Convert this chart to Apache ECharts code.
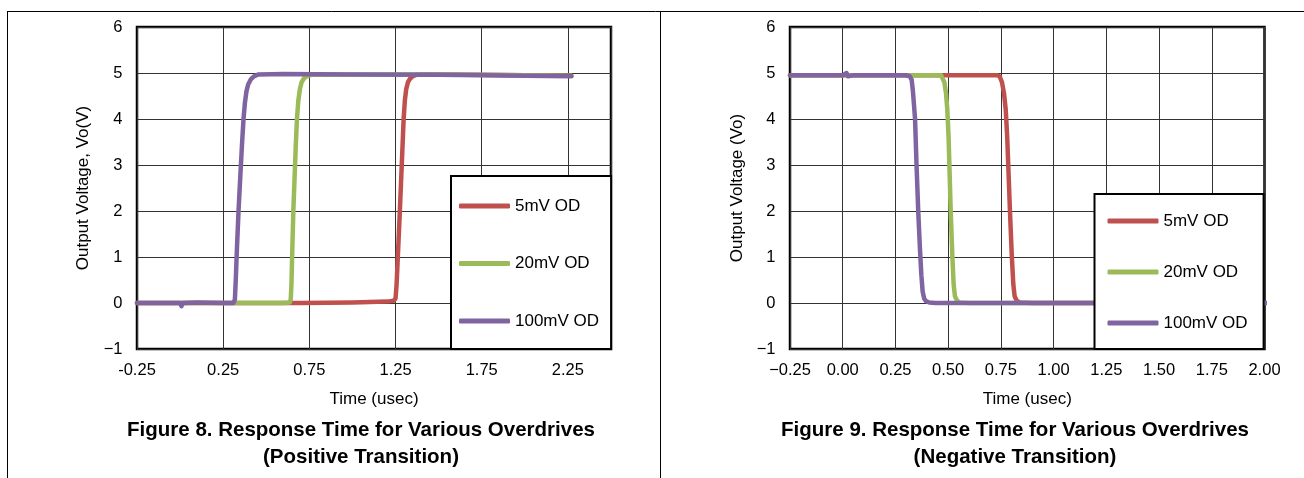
<!DOCTYPE html>
<html>
<head>
<meta charset="utf-8">
<script src="https://cdn.jsdelivr.net/npm/echarts@6/dist/echarts.min.js"></script>
<style>
html,body{margin:0;padding:0;background:#fff;}
#c{width:1304px;height:478px;}
</style>
</head>
<body>
<div id="c"></div>
<script>
// ---------- names / colours ----------
const seriesNames = ['5mV OD', '20mV OD', '100mV OD'];
const seriesColors = ['#C0504D', '#9BBB59', '#8064A2'];

// ---------- tick labels ----------
const leftXTicks = [-0.25, 0.25, 0.75, 1.25, 1.75, 2.25];
const leftXLabels = ['-0.25', '0.25', '0.75', '1.25', '1.75', '2.25'];
const rightXTicks = [-0.25, 0, 0.25, 0.5, 0.75, 1, 1.25, 1.5, 1.75, 2];
const rightXLabels = ['\u22120.25', '0.00', '0.25', '0.50', '0.75', '1.00', '1.25', '1.50', '1.75', '2.00'];
const yTicks = [-1, 0, 1, 2, 3, 4, 5, 6];
const yLabels = ['\u22121', '0', '1', '2', '3', '4', '5', '6'];

// ---------- Figure 8 (positive transition): time (usec), voltage (V) ----------
const pos5_t = [-0.25, 0.3, 0.7, 1.0, 1.2, 1.24, 1.25, 1.256, 1.262, 1.268, 1.275, 1.286, 1.297, 1.304, 1.312, 1.322, 1.335, 1.35, 1.37, 1.45, 1.75, 2.0, 2.27];
const pos5_v = [0, 0, 0, 0.01, 0.03, 0.05, 0.1, 0.4, 0.9, 1.4, 2.0, 3.0, 4.0, 4.4, 4.65, 4.8, 4.88, 4.93, 4.96, 4.97, 4.96, 4.95, 4.94];

const pos20_t = [-0.25, 0.3, 0.6, 0.636, 0.642, 0.646, 0.65, 0.657, 0.664, 0.671, 0.678, 0.686, 0.695, 0.705, 0.72, 0.74, 0.76, 1.0, 1.5, 2.0, 2.27];
const pos20_v = [0, 0, 0, 0.01, 0.08, 0.4, 1.0, 2.0, 2.7, 3.4, 4.0, 4.4, 4.65, 4.8, 4.89, 4.94, 4.96, 4.97, 4.97, 4.95, 4.94];

const pos100_t = [-0.25, -0.1, 0.0, 0.008, 0.016, 0.1, 0.25, 0.31, 0.318, 0.323, 0.33, 0.339, 0.35, 0.36, 0.368, 0.376, 0.385, 0.395, 0.41, 0.43, 0.455, 0.6, 1.0, 1.5, 2.0, 2.27];
const pos100_v = [0, 0, 0, -0.07, 0, 0.01, 0, 0, 0.08, 0.5, 1.2, 2.0, 2.8, 3.5, 4.0, 4.35, 4.6, 4.75, 4.86, 4.93, 4.97, 4.98, 4.97, 4.96, 4.94, 4.93];

// ---------- Figure 9 (negative transition) ----------
const neg5_t = [-0.25, 0.3, 0.7, 0.735, 0.745, 0.755, 0.765, 0.773, 0.78, 0.793, 0.802, 0.809, 0.815, 0.825, 0.84, 0.9, 1.2, 1.6, 2.0];
const neg5_v = [4.95, 4.95, 4.95, 4.95, 4.92, 4.8, 4.55, 4.2, 3.6, 2.0, 1.0, 0.4, 0.15, 0.05, 0.01, 0, 0, 0, 0];

const neg20_t = [-0.25, 0.2, 0.45, 0.466, 0.474, 0.482, 0.49, 0.496, 0.502, 0.512, 0.52, 0.526, 0.532, 0.542, 0.556, 0.6, 1.0, 1.5, 2.0];
const neg20_v = [4.95, 4.95, 4.95, 4.95, 4.92, 4.8, 4.55, 4.2, 3.6, 2.0, 1.0, 0.4, 0.15, 0.05, 0.01, 0, 0, 0, 0];

const neg100_t = [-0.25, 0.0, 0.018, 0.025, 0.05, 0.2, 0.3, 0.318, 0.327, 0.333, 0.338, 0.343, 0.35, 0.358, 0.366, 0.373, 0.379, 0.386, 0.395, 0.41, 0.44, 0.6, 1.0, 1.5, 2.01];
const neg100_v = [4.95, 4.95, 5.0, 4.93, 4.95, 4.95, 4.95, 4.93, 4.85, 4.6, 4.3, 4.0, 3.0, 2.0, 1.2, 0.6, 0.25, 0.1, 0.04, 0.01, 0, 0, 0, 0, 0];

// ---------- helpers ----------
const FONT = '"Liberation Sans", Arial, Helvetica, sans-serif';
function zip(t, v) { return t.map((x, i) => [x, v[i]]); }
function lookup(ticks, labels) {
  return function (val) {
    for (let i = 0; i < ticks.length; i++) if (Math.abs(ticks[i] - val) < 1e-6) return labels[i];
    return '';
  };
}
function mkSeries(name, color, data, idx) {
  return {
    type: 'line', name: name, data: data, xAxisIndex: idx, yAxisIndex: idx,
    showSymbol: false, symbol: 'none', smooth: false,
    lineStyle: { color: color, width: 4.5, cap: 'round', join: 'round' },
    itemStyle: { color: color },
    animation: false
  };
}
function mkX(idx, min, max, interval, ticks, labels) {
  return {
    type: 'value', gridIndex: idx, min: min, max: max, interval: interval,
    name: 'Time (usec)', nameLocation: 'middle', nameGap: 42,
    nameTextStyle: { fontFamily: FONT, fontSize: 17, color: '#000' },
    axisLine: { show: false }, axisTick: { show: false },
    axisLabel: { formatter: lookup(ticks, labels), fontFamily: FONT, fontSize: 16.5, color: '#000', margin: 13, showMaxLabel: true },
    splitLine: { show: true, lineStyle: { color: '#333', width: 1 } }
  };
}
function mkY(idx, name, gap) {
  return {
    type: 'value', gridIndex: idx, min: -1, max: 6, interval: 1,
    name: name, nameLocation: 'middle', nameGap: gap,
    nameTextStyle: { fontFamily: FONT, fontSize: 17, color: '#000' },
    axisLine: { show: false }, axisTick: { show: false },
    axisLabel: { formatter: lookup(yTicks, yLabels), fontFamily: FONT, fontSize: 16.5, color: '#000', margin: 14.5 },
    splitLine: { show: true, lineStyle: { color: '#333', width: 1 } }
  };
}
function mkLegend(left, top, padding, gap) {
  return {
    orient: 'vertical', left: left, top: top, padding: padding, itemGap: gap,
    itemWidth: 51, itemHeight: 5, icon: 'roundRect',
    backgroundColor: '#fff', borderColor: '#000', borderWidth: 2, borderRadius: 0,
    data: seriesNames, selectedMode: false,
    textStyle: { fontFamily: FONT, fontSize: 17, color: '#000', lineHeight: 20 }
  };
}
function titleText(txt) {
  return {
    type: 'text', x: 0, y: 0, silent: true,
    style: { text: txt, x: 0, y: 0, align: 'center', textAlign: 'center', verticalAlign: 'middle', textVerticalAlign: 'middle',
      fill: '#000', font: 'bold 20.5px ' + FONT }
  };
}
function frameLine(x1, y1, x2, y2) {
  return { type: 'line', silent: true, shape: { x1: x1, y1: y1, x2: x2, y2: y2 }, style: { stroke: '#000', lineWidth: 1 } };
}

const chart = echarts.init(document.getElementById('c'), null, { renderer: 'canvas' });
chart.setOption({
  animation: false,
  backgroundColor: '#fff',
  textStyle: { fontFamily: FONT },
  grid: [
    { left: 137, top: 27, width: 474, height: 322, show: true, borderColor: '#000', borderWidth: 2.5, backgroundColor: 'rgba(0,0,0,0)' },
    { left: 790, top: 27, width: 474.5, height: 322, show: true, borderColor: '#000', borderWidth: 2.5, backgroundColor: 'rgba(0,0,0,0)' }
  ],
  xAxis: [
    mkX(0, -0.25, 2.5, 0.5, leftXTicks, leftXLabels),
    mkX(1, -0.25, 2.0, 0.25, rightXTicks, rightXLabels)
  ],
  yAxis: [
    mkY(0, 'Output Voltage, Vo(V)', 45.5),
    mkY(1, 'Output Voltage (Vo)', 44.5)
  ],
  legend: [
    mkLegend(451, 176, [20, 12, 18, 8], 37.5),
    mkLegend(1094.5, 194, [17, 16, 16, 13], 31)
  ],
  series: [
    mkSeries(seriesNames[0], seriesColors[0], zip(pos5_t, pos5_v), 0),
    mkSeries(seriesNames[1], seriesColors[1], zip(pos20_t, pos20_v), 0),
    mkSeries(seriesNames[2], seriesColors[2], zip(pos100_t, pos100_v), 0),
    mkSeries(seriesNames[0], seriesColors[0], zip(neg5_t, neg5_v), 1),
    mkSeries(seriesNames[1], seriesColors[1], zip(neg20_t, neg20_v), 1),
    mkSeries(seriesNames[2], seriesColors[2], zip(neg100_t, neg100_v), 1)
  ],
  graphic: [
    frameLine(7, 11.5, 1304, 11.5),
    frameLine(7.5, 11, 7.5, 478),
    frameLine(660.5, 11, 660.5, 478),
    { type: 'group', x: 361, y: 430, children: [titleText('Figure 8. Response Time for Various Overdrives')] },
    { type: 'group', x: 361, y: 457, children: [titleText('(Positive Transition)')] },
    { type: 'group', x: 1015, y: 430, children: [titleText('Figure 9. Response Time for Various Overdrives')] },
    { type: 'group', x: 1015, y: 457, children: [titleText('(Negative Transition)')] }
  ]
});
</script>
</body>
</html>
